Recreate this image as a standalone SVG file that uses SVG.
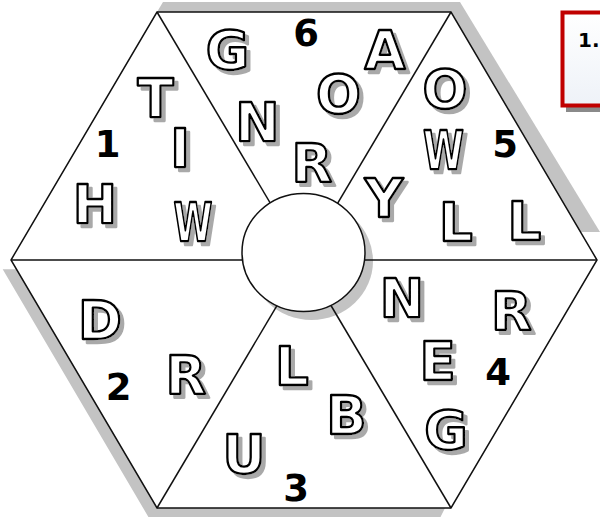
<svg xmlns="http://www.w3.org/2000/svg" width="600" height="517" viewBox="0 0 600 517">
<defs>
<style>
.lt{font-family:"DejaVu Sans",sans-serif;font-weight:bold;font-size:53px;text-anchor:middle;fill:#fff;stroke:#000;stroke-width:2.3;stroke-linejoin:round;filter:url(#ds)}
.num{font-family:"DejaVu Sans",sans-serif;font-weight:bold;font-size:37px;text-anchor:middle;fill:#000}
.edge{fill:none;stroke:#111;stroke-width:1.5}
.shade{fill:#c3c3c3}
</style>
<filter id="ds" x="-20%" y="-20%" width="150%" height="150%">
<feOffset in="SourceAlpha" dx="3.5" dy="3.5" result="o"/>
<feFlood flood-color="#a9a9a9"/>
<feComposite in2="o" operator="in"/>
<feMerge><feMergeNode/><feMergeNode in="SourceGraphic"/></feMerge>
</filter>
<linearGradient id="boxg" x1="0" y1="0" x2="0" y2="1">
<stop offset="0" stop-color="#ffffff"/>
<stop offset="1" stop-color="#eef2f8"/>
</linearGradient>
</defs>

<g id="hexagon-shadow">
<polygon class="shade" points="157,12 163,2 460,2 600,232 580,232"/>
<polygon class="shade" points="2.7,269.3 17,269.3 157,508 445,508 440,518 149,518"/>
</g>

<g id="hexagon">
<polygon points="157,12 451,12 597,260 451,508 157,508 11,260" fill="#fff" stroke="#111" stroke-width="1.5"/>
</g>

<g id="circle-shadow">
<ellipse cx="311.5" cy="261" rx="61.5" ry="59" class="shade"/>
</g>

<g id="connectors">
<line class="edge" x1="11" y1="260" x2="597" y2="260"/>
<line class="edge" x1="157" y1="12" x2="304" y2="260"/>
<line class="edge" x1="451" y1="12" x2="304" y2="260"/>
<line class="edge" x1="157" y1="508" x2="304" y2="260"/>
<line class="edge" x1="451" y1="508" x2="304" y2="260"/>
</g>

<g id="center">
<ellipse cx="303.5" cy="252.5" rx="61.5" ry="59" fill="#fff" stroke="#111" stroke-width="1.5"/>
</g>

<g id="sector-1">
<text class="lt" x="155.5" y="117">T</text>
<text class="lt" x="180" y="167">I</text>
<text class="lt" x="95" y="223">H</text>
<text class="lt" x="193" y="241" textLength="39" lengthAdjust="spacingAndGlyphs">W</text>
<text class="num" x="107.5" y="157">1</text>
</g>

<g id="sector-6">
<text class="lt" x="227.5" y="69">G</text>
<text class="lt" x="257.5" y="141">N</text>
<text class="lt" x="312" y="182">R</text>
<text class="lt" x="338.5" y="113">O</text>
<text class="lt" x="385" y="69">A</text>
<text class="num" x="306" y="46">6</text>
</g>

<g id="sector-5">
<text class="lt" x="445" y="108">O</text>
<text class="lt" x="443.5" y="169" textLength="41" lengthAdjust="spacingAndGlyphs">W</text>
<text class="lt" x="384" y="217">Y</text>
<text class="lt" x="456" y="241">L</text>
<text class="lt" x="524.5" y="240">L</text>
<text class="num" x="505" y="157">5</text>
</g>

<g id="sector-4">
<text class="lt" x="402" y="317">N</text>
<text class="lt" x="511.5" y="330">R</text>
<text class="lt" x="437.5" y="380">E</text>
<text class="lt" x="446" y="449">G</text>
<text class="num" x="498" y="385">4</text>
</g>

<g id="sector-3">
<text class="lt" x="292" y="385">L</text>
<text class="lt" x="346.5" y="434">B</text>
<text class="lt" x="244" y="473">U</text>
<text class="num" x="296" y="501">3</text>
</g>

<g id="sector-2">
<text class="lt" x="100" y="339">D</text>
<text class="lt" x="186" y="394">R</text>
<text class="num" x="118.5" y="400">2</text>
</g>

<g id="instruction-box">
<rect x="566" y="17" width="60" height="95" fill="#8a8a8a"/>
<rect x="562.5" y="12.5" width="60" height="93" fill="url(#boxg)" stroke="#c00000" stroke-width="4"/>
<text x="578" y="47" font-family="DejaVu Sans, sans-serif" font-weight="bold" font-size="20" fill="#000">1.</text>
</g>
</svg>
